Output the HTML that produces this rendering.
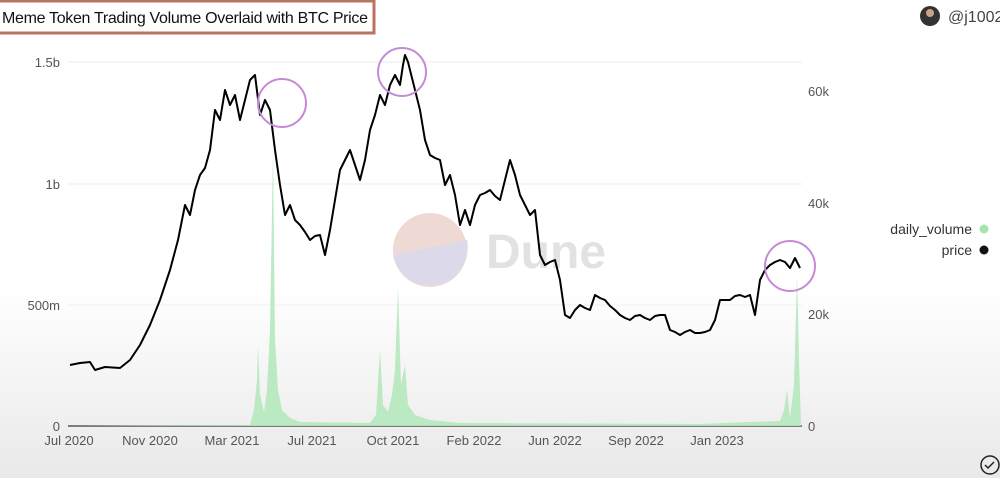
<!DOCTYPE html>
<html><head><meta charset="utf-8"><style>
body{margin:0;width:1000px;height:478px;overflow:hidden;background:linear-gradient(#fff 0%,#fff 60%,#e9e9e9 100%);font-family:"Liberation Sans",sans-serif;}
</style></head><body>
<svg width="1000" height="478" xmlns="http://www.w3.org/2000/svg" style="position:absolute;left:0;top:0">
<rect x="-2" y="1" width="376" height="32" fill="#fff" stroke="#b87460" stroke-width="3"/>
<text x="2" y="23" font-size="16" fill="#111" textLength="366">Meme Token Trading Volume Overlaid with BTC Price</text>
<circle cx="930" cy="16" r="10" fill="#333"/><circle cx="930" cy="13" r="4" fill="#c9a38a"/>
<text x="948" y="22" font-size="16" fill="#444">@j1002</text>
<g stroke="#eee" stroke-width="1">
<line x1="68" y1="62" x2="802" y2="62"/><line x1="68" y1="184" x2="802" y2="184"/><line x1="68" y1="305" x2="802" y2="305"/>
</g>
<line x1="68" y1="426" x2="802" y2="426" stroke="#555" stroke-width="1.5"/>
<g font-size="13" fill="#555" text-anchor="end">
<text x="60" y="67">1.5b</text><text x="60" y="189">1b</text><text x="60" y="310">500m</text><text x="60" y="431">0</text>
</g>
<g font-size="13" fill="#555">
<text x="808" y="96">60k</text><text x="808" y="208">40k</text><text x="808" y="319">20k</text><text x="808" y="431">0</text>
</g>
<g font-size="13" fill="#555" text-anchor="middle">
<text x="69" y="445">Jul 2020</text><text x="150" y="445">Nov 2020</text><text x="232" y="445">Mar 2021</text><text x="312" y="445">Jul 2021</text><text x="393" y="445">Oct 2021</text><text x="474" y="445">Feb 2022</text><text x="555" y="445">Jun 2022</text><text x="636" y="445">Sep 2022</text><text x="717" y="445">Jan 2023</text>
</g>
<g font-size="14" fill="#333" text-anchor="end">
<text x="972" y="234">daily_volume</text><text x="972" y="255">price</text>
</g>
<circle cx="984" cy="229" r="4.5" fill="#a8e3b2"/><circle cx="984" cy="250" r="4.5" fill="#111"/>
<circle cx="430" cy="250" r="37" fill="#efd9d4"/>
<path d="M393,255 L467,240 A37,37 0 0 1 393,255Z" fill="#dcd9ea"/>
<text x="486" y="268" font-size="48" font-weight="bold" fill="#e2e2e2">Dune</text>
<path fill="#b5e8bd" opacity="0.9" d="M70,426 L250,425 L254,410 L257,380 L258,345 L260,395 L264,412 L267,390 L270,330 L273,150 L275,340 L278,390 L282,410 L290,418 L300,422 L370,423 L376,415 L380,350 L383,405 L388,412 L392,395 L395,370 L398,288 L401,385 L405,365 L408,405 L415,415 L430,420 L460,423 L700,424 L750,422 L780,421 L784,410 L787,390 L790,418 L794,385 L797,275 L799,360 L801,426Z"/>
<polyline fill="none" stroke="#000" stroke-width="2" stroke-linejoin="round" points="70,365 80,363 90,362 95,370 105,367 120,368 130,360 140,345 150,325 160,300 170,270 178,240 180,230 185,205 190,215 195,190 200,175 205,168 210,150 215,110 220,120 225,90 230,105 235,95 240,120 245,100 250,80 255,75 260,115 265,100 270,110 275,150 280,185 285,215 290,205 295,220 300,225 305,232 310,240 315,236 320,235 325,255 330,230 335,200 340,170 345,160 350,150 355,165 360,180 365,160 370,130 375,115 380,95 385,105 390,85 395,75 400,85 403,65 405,55 408,62 410,70 415,90 420,110 425,140 430,155 435,158 440,160 445,185 450,175 455,195 460,225 465,210 470,225 475,205 480,195 485,193 490,190 495,196 500,200 505,180 510,160 515,175 520,195 525,205 530,215 535,210 540,255 545,265 550,262 555,260 560,280 565,315 570,318 575,310 580,305 585,308 590,310 595,295 600,298 605,300 610,306 615,310 620,315 625,318 630,320 635,316 640,315 645,318 650,320 655,316 660,315 665,315 670,330 675,332 680,335 685,332 690,330 695,333 700,333 705,332 710,330 715,320 720,300 725,300 730,300 735,296 740,295 745,297 750,295 755,315 760,280 765,270 770,265 775,262 780,260 785,262 790,268 795,258 800,268"/>
<g fill="none" stroke="#c58ad6" stroke-width="2">
<circle cx="282" cy="103" r="24"/><circle cx="402" cy="72" r="24"/><circle cx="790" cy="266" r="25"/>
</g>
<circle cx="990" cy="465" r="9" fill="none" stroke="#222" stroke-width="1.5"/>
<path d="M985,465 l3,3 l6,-6" fill="none" stroke="#222" stroke-width="1.5"/>
</svg>
</body></html>
